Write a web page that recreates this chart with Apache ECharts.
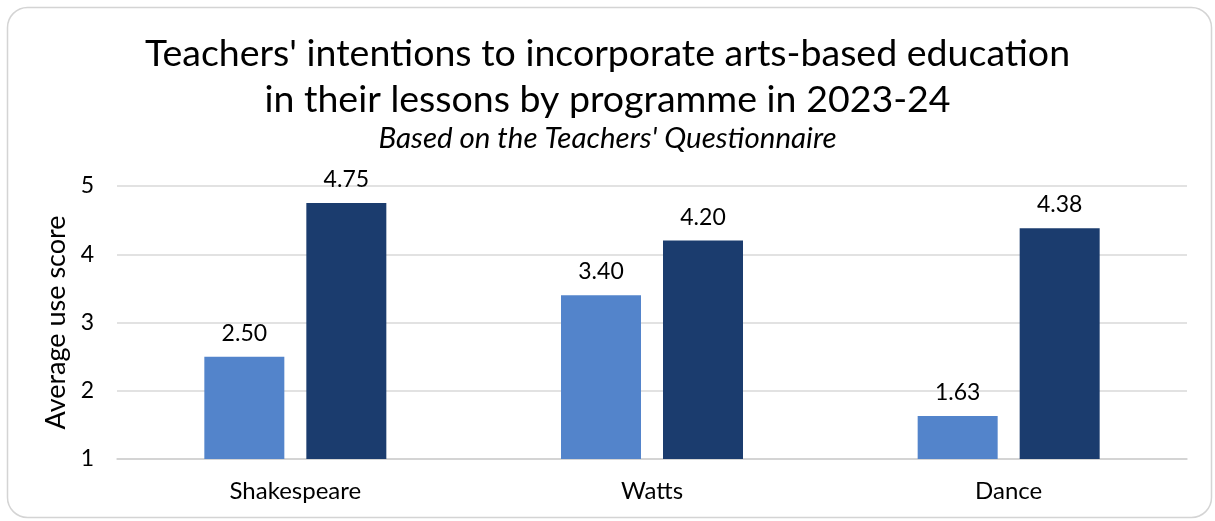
<!DOCTYPE html>
<html>
<head>
<meta charset="utf-8">
<script src="https://cdn.jsdelivr.net/npm/echarts@6/dist/echarts.min.js"></script>
<style>
  html, body { margin: 0; padding: 0; background: #ffffff; }
  #chart { width: 1215px; height: 521px; }
</style>
</head>
<body>
<div id="chart"></div>
<script>
// Programmes and average use scores for the two question groups
const programmes = ['Shakespeare', 'Watts', 'Dance'];
const scoresLight = [2.50, 3.40, 1.63];
const scoresDark = [4.75, 4.20, 4.38];
const yTicks = [1, 2, 3, 4, 5];

const FONT = 'Lato';
const chart = echarts.init(document.getElementById('chart'), null, { renderer: 'canvas' });

const labelStyle = {
  show: true,
  position: 'top',
  distance: 12,
  fontFamily: FONT,
  fontSize: 23,
  color: '#000000',
  formatter: p => p.value.toFixed(2)
};

chart.setOption({
  backgroundColor: '#ffffff',
  animation: false,
  graphic: [{
    type: 'rect',
    shape: { x: 7.5, y: 7.5, width: 1204, height: 510, r: 20 },
    style: { fill: 'none', stroke: '#d4d4d4', lineWidth: 1.5 },
    z: -1
  }],
  title: [
    {
      text: "Teachers' intentions to incorporate arts-based education\nin their lessons by programme in 2023-24",
      left: 'center',
      top: 26,
      textStyle: { fontFamily: FONT, fontSize: 37.5, fontWeight: 'normal', color: '#000000', lineHeight: 46 }
    },
    {
      text: "Based on the Teachers' Questionnaire",
      left: 'center',
      top: 118,
      textStyle: { fontFamily: FONT, fontSize: 29.5, fontWeight: 'normal', fontStyle: 'italic', color: '#000000' }
    }
  ],
  grid: { left: 117, right: 28, top: 186, bottom: 62, containLabel: false },
  xAxis: {
    type: 'category',
    data: programmes,
    axisLine: { show: true, lineStyle: { color: '#d0d0d0', width: 1.5 } },
    axisTick: { show: false },
    axisLabel: { fontFamily: FONT, fontSize: 24, color: '#000000', margin: 20 }
  },
  yAxis: {
    type: 'value',
    min: yTicks[0],
    max: yTicks[yTicks.length - 1],
    interval: 1,
    name: 'Average use score',
    nameLocation: 'middle',
    nameRotate: 90,
    nameGap: 46,
    nameTextStyle: { fontFamily: FONT, fontSize: 27, color: '#000000' },
    axisLine: { show: false },
    axisTick: { show: false },
    axisLabel: { fontFamily: FONT, fontSize: 23, color: '#000000', margin: 23 },
    splitLine: { lineStyle: { color: '#d9d9d9', width: 1.5 } }
  },
  series: [
    {
      type: 'bar',
      data: scoresLight,
      barWidth: 80,
      barGap: '27.5%',
      itemStyle: { color: '#5384cb' },
      label: labelStyle
    },
    {
      type: 'bar',
      data: scoresDark,
      barWidth: 80,
      itemStyle: { color: '#1b3c6e' },
      label: labelStyle
    }
  ]
});
</script>
</body>
</html>
